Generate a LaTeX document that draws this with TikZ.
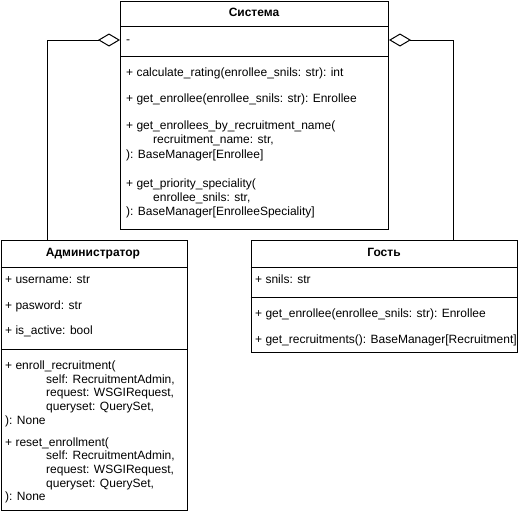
\documentclass[tikz,border=0pt]{standalone}
\usepackage{fontspec}
\setmainfont{Liberation Sans}
\usetikzlibrary{arrows.meta}
\tikzset{
  umlbox/.style={draw, line width=1pt, fill=white, anchor=north west, inner sep=0pt},
  txt/.style={anchor=west, inner sep=0pt, text height=8.6pt, text depth=2.4pt, font=\fontsize{12}{14}\selectfont},
  ttl/.style={inner sep=0pt, text height=8.6pt, text depth=2.4pt, font=\bfseries\fontsize{12}{14}\selectfont},
  sep/.style={line width=1pt},
  aggr/.style={line width=1pt, -{Diamond[open,length=22pt,width=13pt,line width=1pt]}}
}
\begin{document}
\begin{tikzpicture}[x=1pt,y=-1pt]
\useasboundingbox (0,0) rectangle (521,514);
% class boxes
\node[umlbox, minimum width=268pt, minimum height=228pt] (sys) at (120,0.5) {};
\node[umlbox, minimum width=186pt, minimum height=270pt] (adm) at (0.5,240) {};
\node[umlbox, minimum width=266.5pt, minimum height=112pt] (guest) at (250.5,240) {};
% separators
\draw[sep] (sys.west |- 0,26) -- (sys.east |- 0,26);
\draw[sep] (sys.west |- 0,56) -- (sys.east |- 0,56);
\draw[sep] (adm.west |- 0,267) -- (adm.east |- 0,267);
\draw[sep] (adm.west |- 0,349) -- (adm.east |- 0,349);
\draw[sep] (guest.west |- 0,267) -- (guest.east |- 0,267);
\draw[sep] (guest.west |- 0,297) -- (guest.east |- 0,297);
% Система
\node[ttl] (systitle) at (254,13) {Система};
\node[txt] (s1) at (126,40) {-};
\node[txt] (s2) at (126,73) {+ calculate\_rating(enrollee\_snils: str): int};
\node[txt] (s3) at (126,99) {+ get\_enrollee(enrollee\_snils: str): Enrollee};
\node[txt] (s4) at (126,126) {+ get\_enrollees\_by\_recruitment\_name(};
\node[txt] (s5) at (153,140) {recruitment\_name: str,};
\node[txt] (s6) at (126,155) {): BaseManager[Enrollee]};
\node[txt] (s7) at (126,184) {+ get\_priority\_speciality(};
\node[txt] (s8) at (153,198) {enrollee\_snils: str,};
\node[txt] (s9) at (126,212) {): BaseManager[EnrolleeSpeciality]};
% Администратор
\node[ttl] (admtitle) at (93,253) {Администратор};
\node[txt] (a1) at (5,280) {+ username: str};
\node[txt] (a2) at (5,306) {+ pasword: str};
\node[txt] (a3) at (5,331) {+ is\_active: bool};
\node[txt] (a4) at (5,366) {+ enroll\_recruitment(};
\node[txt] (a5) at (46,380) {self: RecruitmentAdmin,};
\node[txt] (a6) at (46,393) {request: WSGIRequest,};
\node[txt] (a7) at (46,407) {queryset: QuerySet,};
\node[txt] (a8) at (5,421) {): None};
\node[txt] (a9) at (5,443) {+ reset\_enrollment(};
\node[txt] (a10) at (46,456) {self: RecruitmentAdmin,};
\node[txt] (a11) at (46,470) {request: WSGIRequest,};
\node[txt] (a12) at (46,484) {queryset: QuerySet,};
\node[txt] (a13) at (5,497) {): None};
% Гость
\node[ttl] (gtitle) at (384,253) {Гость};
\node[txt] (g1) at (255,280) {+ snils: str};
\node[txt] (g2) at (255,314) {+ get\_enrollee(enrollee\_snils: str): Enrollee};
\node[txt] (g3) at (255,340) {+ get\_recruitments(): BaseManager[Recruitment]};
% aggregations
\coordinate (admtop) at (47,240);
\coordinate (guesttop) at (453,240);
\draw[aggr] (admtop) |- (sys.west |- 0,40);
\draw[aggr] (guesttop) |- (sys.east |- 0,40);
\end{tikzpicture}
\end{document}
